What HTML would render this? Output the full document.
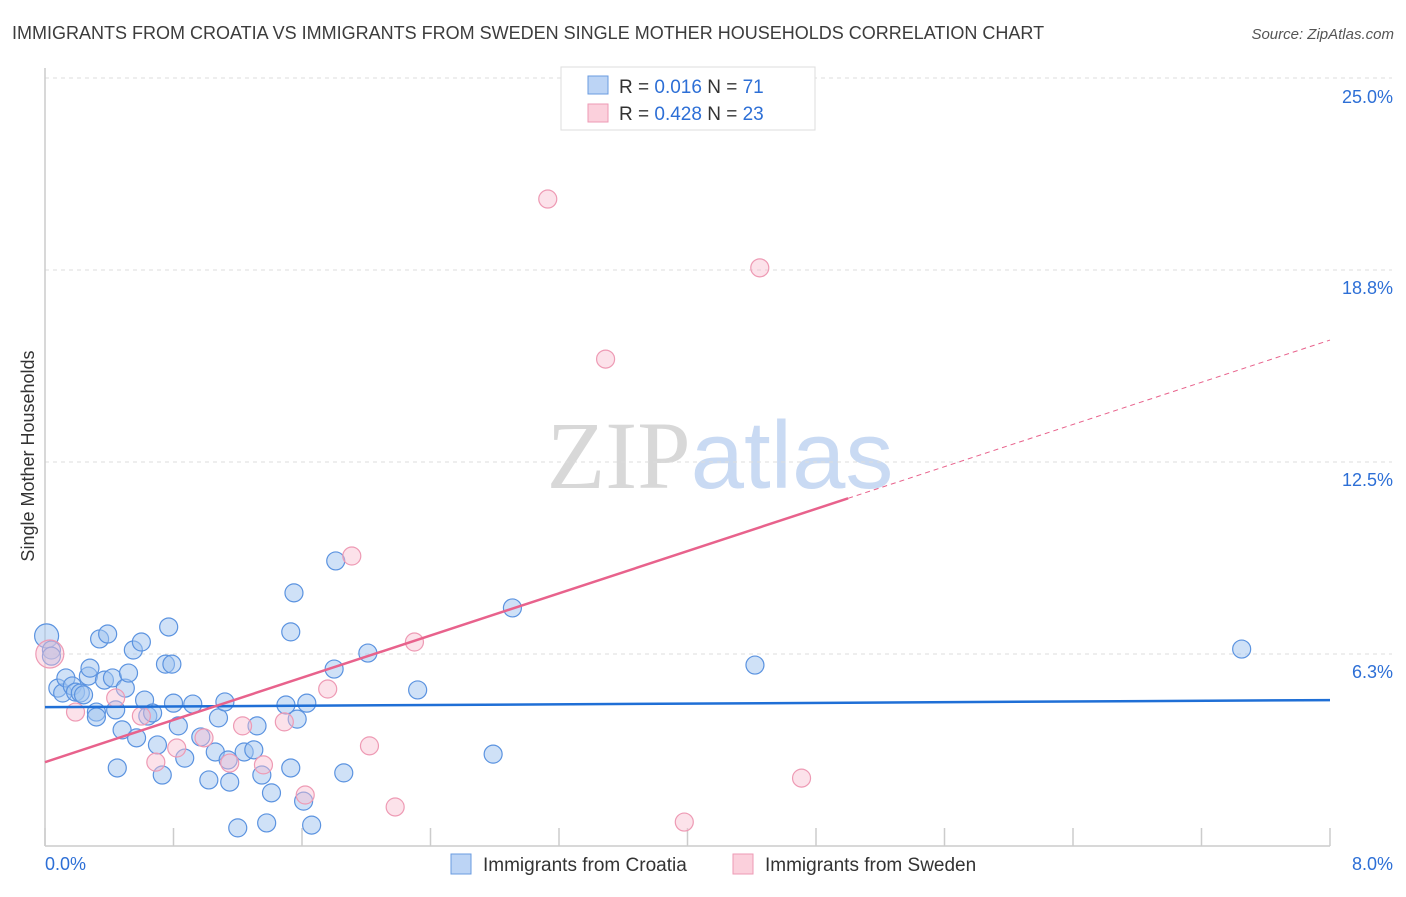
<!DOCTYPE html>
<html><head><meta charset="utf-8"><style>
body{margin:0;background:#fff;font-family:"Liberation Sans",sans-serif;}
svg text{font-family:"Liberation Sans",sans-serif;}
</style></head><body>
<svg id="chart" width="1406" height="892" xmlns="http://www.w3.org/2000/svg">
<text x="12" y="39" font-size="18" fill="#3c3c3c">IMMIGRANTS FROM CROATIA VS IMMIGRANTS FROM SWEDEN SINGLE MOTHER HOUSEHOLDS CORRELATION CHART</text>
<text x="1394" y="39" font-size="15" fill="#555" text-anchor="end" font-style="italic">Source: ZipAtlas.com</text>
<text x="720" y="488" font-size="96" text-anchor="middle"><tspan fill="#d8d8d8" font-family="Liberation Serif">ZIP</tspan><tspan fill="#c9daf3">atlas</tspan></text>
<text transform="translate(34,456) rotate(-90)" font-size="18" fill="#333" text-anchor="middle">Single Mother Households</text>
<g id="grid"></g><g id="axes"></g><g id="pts"></g><g id="trend"></g>
<g>
<rect x="561" y="67" width="254" height="63" fill="#fff" stroke="#ddd"/>
<rect x="588" y="76" width="20" height="18" fill="#bcd4f5" stroke="#6a9be0"/>
<rect x="588" y="104" width="20" height="18" fill="#fbd0dc" stroke="#ee9ab4"/>
<text x="619" y="93" font-size="19" fill="#333">R = <tspan fill="#2d6fd6">0.016</tspan>   N = <tspan fill="#2d6fd6">71</tspan></text>
<text x="619" y="120" font-size="19" fill="#333">R = <tspan fill="#2d6fd6">0.428</tspan>   N = <tspan fill="#2d6fd6">23</tspan></text>
</g>
<g>
<rect x="451" y="854" width="20" height="20" fill="#bcd4f5" stroke="#6a9be0"/>
<text x="483" y="871" font-size="19" fill="#333">Immigrants from Croatia</text>
<rect x="733" y="854" width="20" height="20" fill="#fbd0dc" stroke="#ee9ab4"/>
<text x="765" y="871" font-size="19" fill="#333">Immigrants from Sweden</text>
</g>
</svg>
<script>
const blueX=[0.01,0.04,0.04,0.08,0.11,0.13,0.17,0.19,0.22,0.24,0.27,0.28,0.32,0.32,0.34,0.37,0.39,0.42,0.44,0.45,0.48,0.50,0.52,0.55,0.57,0.60,0.62,0.64,0.67,0.70,0.73,0.75,0.77,0.79,0.80,0.83,0.87,0.92,0.97,1.02,1.06,1.08,1.12,1.14,1.15,1.20,1.24,1.30,1.32,1.35,1.38,1.41,1.50,1.53,1.53,1.55,1.57,1.61,1.63,1.66,1.80,1.81,1.86,2.01,2.32,2.79,2.91,4.42,7.45];
const blueY=[6.84,6.38,6.18,5.14,4.98,5.47,5.21,5.01,4.98,4.92,5.53,5.79,4.36,4.20,6.74,5.40,6.90,5.47,4.43,2.54,3.78,5.14,5.63,6.38,3.52,6.64,4.75,4.23,4.33,3.29,2.31,5.92,7.13,5.92,4.65,3.91,2.86,4.62,3.55,2.15,3.06,4.17,4.69,2.80,2.08,0.59,3.06,3.13,3.91,2.31,0.75,1.73,4.59,6.97,2.54,8.24,4.13,1.46,4.65,0.68,5.76,9.28,2.38,6.28,5.08,2.99,7.75,5.89,6.41];
const pinkX=[0.03,0.19,0.44,0.60,0.69,0.82,0.99,1.15,1.23,1.36,1.49,1.62,1.76,1.91,2.02,2.18,2.30,3.13,3.49,3.98,4.45,4.71];
const pinkY=[6.25,4.36,4.82,4.23,2.73,3.19,3.52,2.70,3.91,2.64,4.04,1.66,5.11,9.44,3.26,1.27,6.64,21.06,15.85,0.78,18.82,2.21];
const yTicks=[6.25,12.5,18.75,25];
const yTickLabels=["6.3%","12.5%","18.8%","25.0%"];
const blueTrend=[4.52,4.75];
const pinkTrend=[2.73,16.47];
const pinkSolidEnd=5.0;
const NS="http://www.w3.org/2000/svg";
const X=v=>45+v/8*1285, Y=v=>846-v*30.72;
function mk(t,a,p){const e=document.createElementNS(NS,t);for(const k in a)e.setAttribute(k,a[k]);p.appendChild(e);return e;}
const grid=document.getElementById('grid'),axes=document.getElementById('axes'),pts=document.getElementById('pts'),tr=document.getElementById('trend');
yTicks.forEach((v,i)=>{
 const l=mk('line',{x1:45,x2:1392,y1:Y(v),y2:Y(v),stroke:'#ddd','stroke-dasharray':'4,4'},grid);
 
 
 const t=mk('text',{x:1393,y:(i==3?Y(v)+25:Y(v)+24),'font-size':18,fill:'#2d6fd6','text-anchor':'end'},grid);
 t.textContent=yTickLabels[i];
 
 
});
mk('line',{x1:45,x2:45,y1:68,y2:846,stroke:'#ccc','stroke-width':1.5},axes);
mk('line',{x1:45,x2:1330,y1:846,y2:846,stroke:'#ccc','stroke-width':1.5},axes);
for(let i=0;i<=10;i++){const tk=mk('line',{x1:X(i*0.8),x2:X(i*0.8),y1:828,y2:846,stroke:'#ccc','stroke-width':1.5},axes);
 
 }
const xl=mk('text',{x:45,y:870,'font-size':18,fill:'#2d6fd6'},axes);xl.textContent='0.0%';


const xr=mk('text',{x:1393,y:870,'font-size':18,fill:'#2d6fd6','text-anchor':'end'},axes);xr.textContent='8.0%';


blueX.forEach((v,i)=>{const c=mk('circle',{cx:X(v),cy:Y(blueY[i]),r:i==0?12:9,fill:'rgba(160,196,240,0.5)',stroke:'#5b93e0','stroke-width':1.2},pts);
 
 });
pinkX.forEach((v,i)=>{const c=mk('circle',{cx:X(v),cy:Y(pinkY[i]),r:i==0?14:9,fill:'rgba(248,190,208,0.45)',stroke:'#ee9ab4','stroke-width':1.2},pts);
 
 });
const bl=mk('line',{x1:X(0),x2:X(8),y1:Y(blueTrend[0]),y2:Y(blueTrend[1]),stroke:'#1f6fd6','stroke-width':2.5},tr);


const py=x=>pinkTrend[0]+(pinkTrend[1]-pinkTrend[0])*x/8;
const pl=mk('line',{x1:X(0),x2:X(pinkSolidEnd),y1:Y(py(0)),y2:Y(py(pinkSolidEnd)),stroke:'#e8628c','stroke-width':2.5},tr);


const pd=mk('line',{x1:X(pinkSolidEnd),x2:X(8),y1:Y(py(pinkSolidEnd)),y2:Y(py(8)),stroke:'#e8628c','stroke-width':1,'stroke-dasharray':'5,4'},tr);


</script>
</body></html>
